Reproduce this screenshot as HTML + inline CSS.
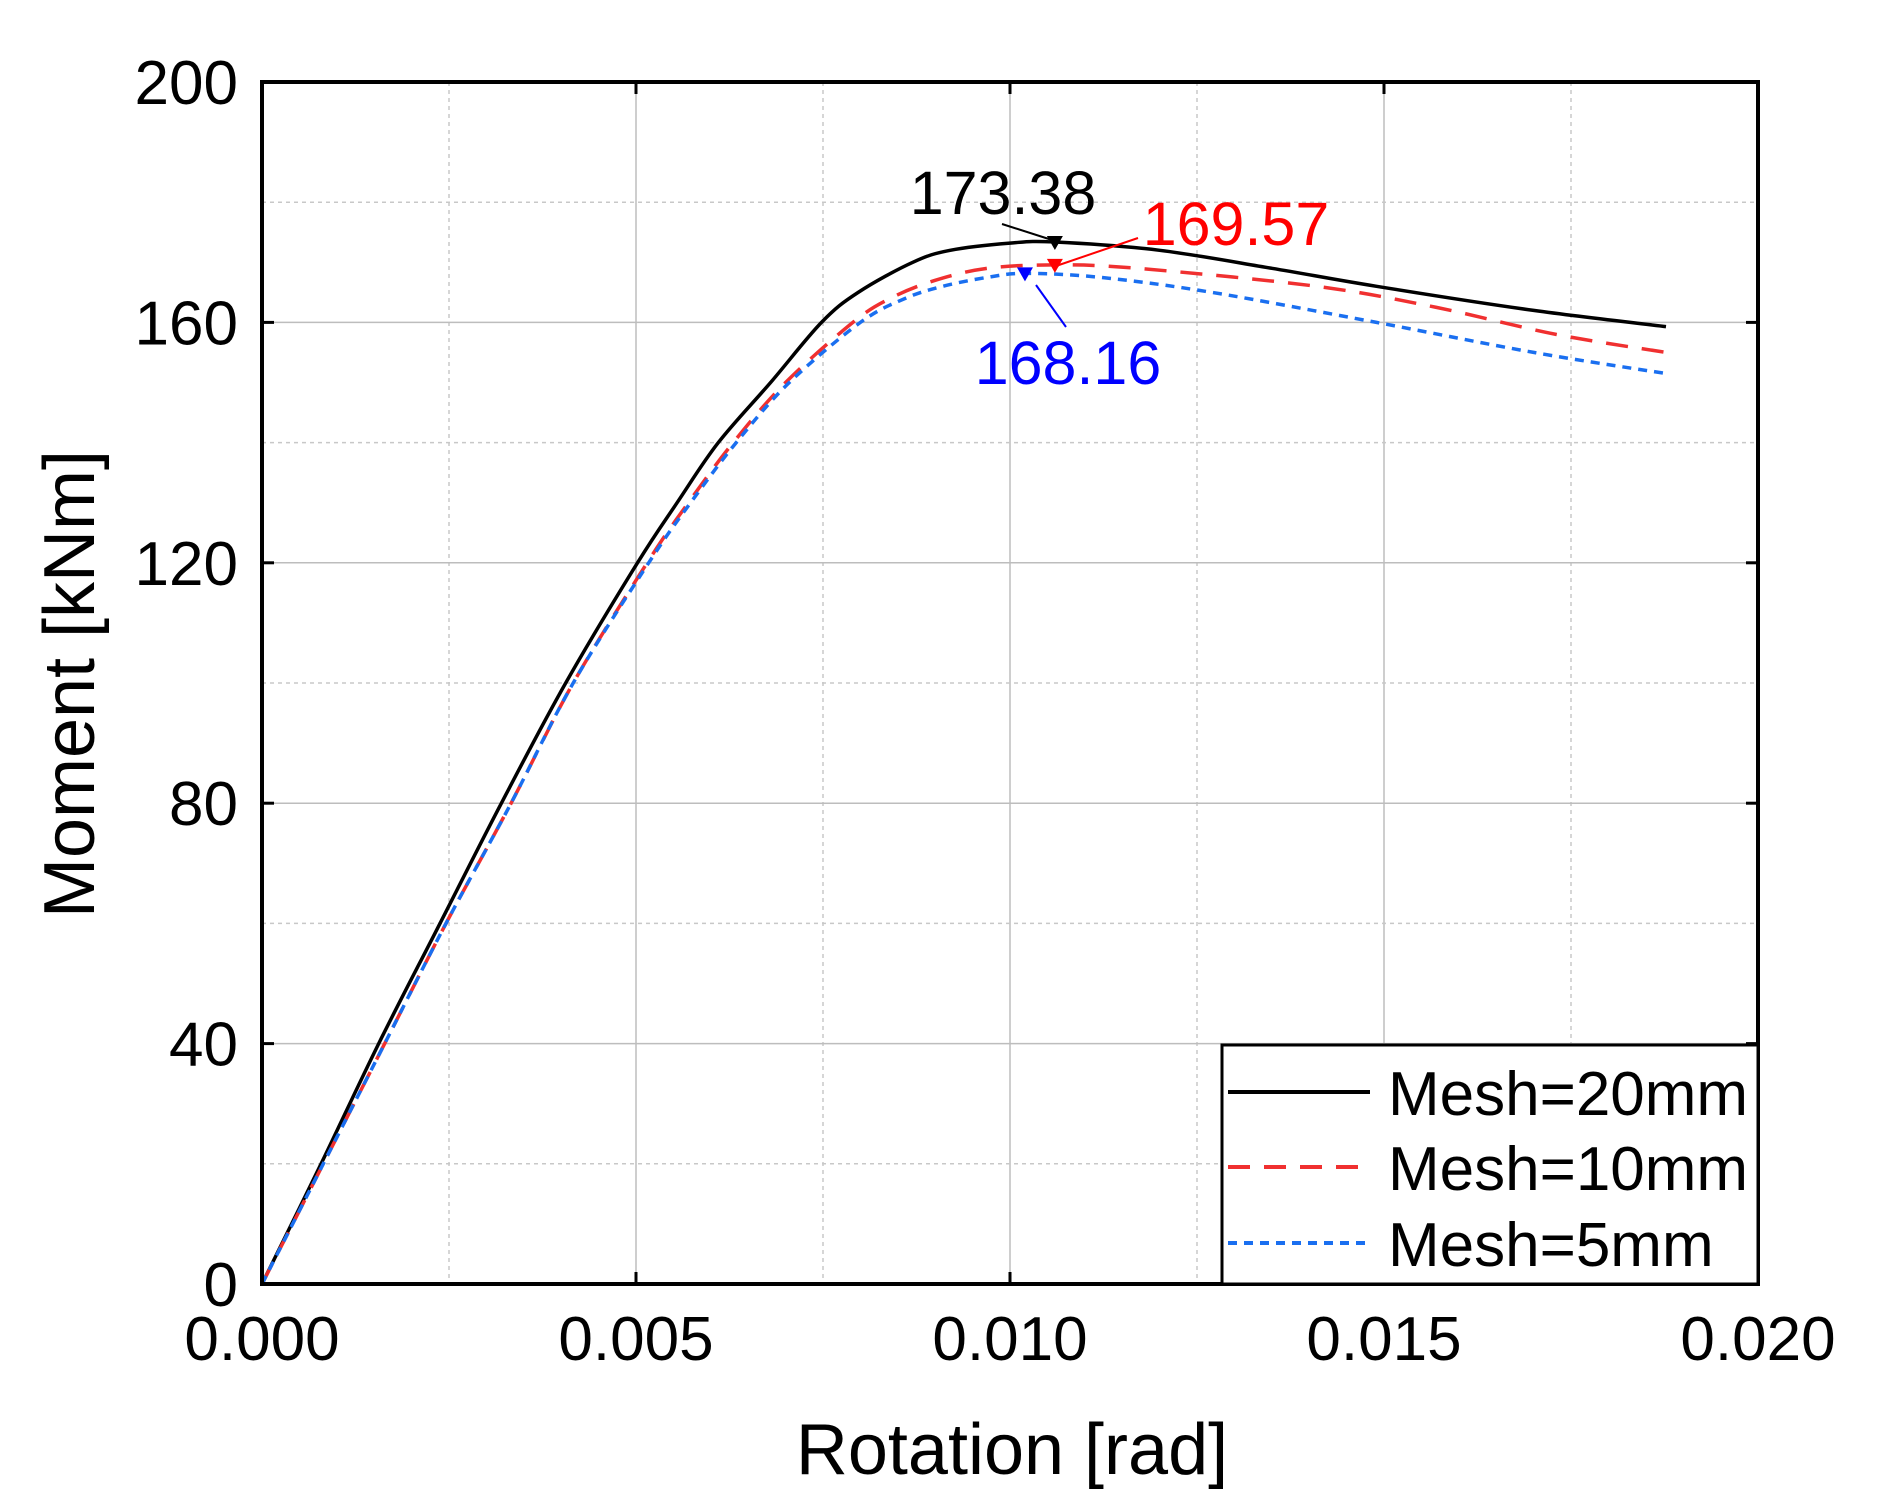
<!DOCTYPE html>
<html><head><meta charset="utf-8"><style>
html,body{margin:0;padding:0;background:#fff;}
svg text{font-family:"Liberation Sans",Arial,sans-serif;}
</style></head><body>
<svg id="chart" width="1878" height="1500" viewBox="0 0 1878 1500" xmlns="http://www.w3.org/2000/svg">
<g id="grid"></g>
<g id="series"></g>
<g id="axes"></g>
<g id="annot"></g>
<g id="legend"></g>
</svg>
<script>
const xTicks=[0,0.005,0.010,0.015,0.020];
const xTickLabels=["0.000","0.005","0.010","0.015","0.020"];
const yTicks=[0,40,80,120,160,200];
const yTickLabels=["0","40","80","120","160","200"];
const rot20=[0,0.00079,0.00156,0.00238,0.0032,0.00406,0.00502,0.00555,0.0061,0.0068,0.00748,0.00797,0.0087,0.0092,0.0100,0.0106,0.0120,0.0135,0.0149,0.0170,0.01877];
const m20=[0,20,40,60,80,100,120,130,140,150,160,165,170,172,173.2,173.38,172,169,166,162,159.3];
const rot10=[0,0.00082,0.00164,0.00246,0.00333,0.00416,0.00515,0.0057,0.0063,0.0070,0.0079,0.0084,0.0090,0.0097,0.0106,0.0117,0.0141,0.0157,0.0173,0.01877];
const m10=[0,20,40,60,80,100,120,130,140,150,160,164,167,169,169.57,169,166,162.5,158,155];
const rot5=[0,0.00082,0.00164,0.00246,0.00333,0.00416,0.00517,0.00573,0.00634,0.00705,0.0080,0.0086,0.0091,0.0097,0.0102,0.0112,0.0127,0.0149,0.0170,0.01877];
const m5=[0,20,40,60,80,100,120,130,140,150,160,164,166,167.5,168.16,167.5,165,160,155,151.5];
const seriesNames=["Mesh=20mm","Mesh=10mm","Mesh=5mm"];

const X0=262,X1=1758,Y0=1284,Y1=82;
const sx=v=>X0+(v-0)/(0.02)*(X1-X0);
const sy=v=>Y0-(v-0)/200*(Y0-Y1);
const NS="http://www.w3.org/2000/svg";
function mk(parent,tag,attrs,text){const e=document.createElementNS(NS,tag);for(const k in attrs)e.setAttribute(k,attrs[k]);if(text!==undefined)e.textContent=text;parent.appendChild(e);return e;}
const grid=document.getElementById('grid'),axes=document.getElementById('axes'),ser=document.getElementById('series'),annot=document.getElementById('annot'),leg=document.getElementById('legend');

for(let i=0;i<=8;i++){const v=i*0.0025;if(i===0||i===8)continue;
 const l=mk(grid,'line',{x1:sx(v),x2:sx(v),y1:Y1,y2:Y0,stroke:i%2?'#c8c8c8':'#bdbdbd','stroke-width':1.5,'stroke-dasharray':i%2?'4 4':''});
 
 }
for(let i=1;i<10;i++){const v=i*20;
 const l=mk(grid,'line',{x1:X0,x2:X1,y1:sy(v),y2:sy(v),stroke:i%2?'#c8c8c8':'#bdbdbd','stroke-width':1.5,'stroke-dasharray':i%2?'4 4':''});
 
 }

function pathOf(xs,ys){const P=xs.map((x,i)=>[sx(x),sy(ys[i])]);let d='M'+P[0][0].toFixed(1)+' '+P[0][1].toFixed(1);
 for(let i=0;i<P.length-1;i++){const p0=P[i-1]||P[i],p1=P[i],p2=P[i+1],p3=P[i+2]||p2;
  const c1=[p1[0]+(p2[0]-p0[0])/6,p1[1]+(p2[1]-p0[1])/6],c2=[p2[0]-(p3[0]-p1[0])/6,p2[1]-(p3[1]-p1[1])/6];
  d+=` C${c1[0].toFixed(1)} ${c1[1].toFixed(1)} ${c2[0].toFixed(1)} ${c2[1].toFixed(1)} ${p2[0].toFixed(1)} ${p2[1].toFixed(1)}`;}
 return d;}
const styles=[{c:'#000',d:'',w:3.5},{c:'#f03030',d:'22 14',w:3.5},{c:'#1a6ff0',d:'9 7',w:3.5}];
const data=[[rot20,m20],[rot10,m10],[rot5,m5]];
const snames=['series-mesh-20mm','series-mesh-10mm','series-mesh-5mm'];
data.forEach((d,i)=>{const p=mk(ser,'path',{d:pathOf(d[0],d[1]),fill:'none',stroke:styles[i].c,'stroke-width':styles[i].w,'stroke-dasharray':styles[i].d,'stroke-linejoin':'round'});
 
 });

const fr=mk(axes,'rect',{x:X0,y:Y1,width:X1-X0,height:Y0-Y1,fill:'none',stroke:'#000','stroke-width':4});


xTicks.forEach((v,i)=>{
 mk(axes,'line',{x1:sx(v),x2:sx(v),y1:Y0,y2:Y0-12,stroke:'#000','stroke-width':3});
 mk(axes,'line',{x1:sx(v),x2:sx(v),y1:Y1,y2:Y1+12,stroke:'#000','stroke-width':3});
 const t=mk(axes,'text',{x:sx(v),y:1360,'font-size':62,'text-anchor':'middle',fill:'#000'},xTickLabels[i]);
 
 });
yTicks.forEach((v,i)=>{
 mk(axes,'line',{x1:X0,x2:X0+12,y1:sy(v),y2:sy(v),stroke:'#000','stroke-width':3});
 mk(axes,'line',{x1:X1,x2:X1-12,y1:sy(v),y2:sy(v),stroke:'#000','stroke-width':3});
 const t=mk(axes,'text',{x:238,y:sy(v)+22,'font-size':62,'text-anchor':'end',fill:'#000'},yTickLabels[i]);
 
 });
const xt=mk(axes,'text',{x:1012,y:1474,'font-size':72,'text-anchor':'middle',fill:'#000'},'Rotation [rad]');


const yt=mk(axes,'text',{x:0,y:0,'font-size':72,'text-anchor':'middle',fill:'#000',transform:'translate(94,684) rotate(-90)'},'Moment [kNm]');



const ann=[
 {t:'173.38',c:'#000',tx:1003,ty:214,a:[1002,224,1052,240],m:[sx(0.0106),sy(173.38)],n:'peak-label-20mm'},
 {t:'169.57',c:'#f00',tx:1236,ty:245,a:[1138,238,1056,266],m:[sx(0.0106),sy(169.57)],n:'peak-label-10mm'},
 {t:'168.16',c:'#00f',tx:1068,ty:384,a:[1066,327,1036,285],m:[sx(0.0102),sy(168.16)],n:'peak-label-5mm'}];
ann.forEach(a=>{
 const t=mk(annot,'text',{x:a.tx,y:a.ty,'font-size':61,'text-anchor':'middle',fill:a.c},a.t);
 
 
 mk(annot,'line',{x1:a.a[0],y1:a.a[1],x2:a.a[2],y2:a.a[3],stroke:a.c,'stroke-width':2});
 const [mx,my]=a.m;
 mk(annot,'path',{d:`M${mx-8} ${my-6} L${mx+8} ${my-6} L${mx} ${my+8} Z`,fill:a.c});
});

const lb=mk(leg,'rect',{x:1222,y:1045,width:X1-1222,height:Y0-1045,fill:'#fff',stroke:'#000','stroke-width':3});


const ly=[1092,1167,1243];
seriesNames.forEach((n,i)=>{
 const g=mk(leg,'g',{});
 
 
 mk(g,'line',{x1:1228,x2:1370,y1:ly[i],y2:ly[i],stroke:styles[i].c,'stroke-width':styles[i].w+0.5,'stroke-dasharray':styles[i].d});
 mk(g,'text',{x:1388,y:ly[i]+23,'font-size':62,fill:'#000'},n);
});
</script>
</body></html>
